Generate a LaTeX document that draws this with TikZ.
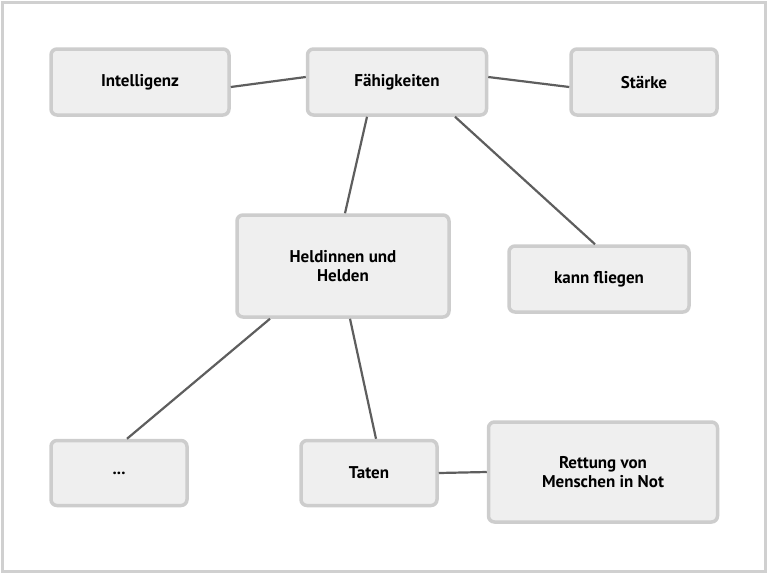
\documentclass[tikz,border=0pt]{standalone}
\usepackage{fontspec}
\setmainfont{PT Sans}
\usetikzlibrary{positioning}
\definecolor{boxFill}{HTML}{EFEFEF}
\definecolor{boxLine}{HTML}{CDCDCD}
\definecolor{linkColor}{HTML}{5E5E5E}
\definecolor{frameColor}{HTML}{D0D0D0}
\tikzset{
  topic/.style={draw=boxLine, fill=boxFill, line width=3.5pt, rounded corners=6pt,
    font=\fontsize{17}{19}\selectfont\bfseries, align=center, inner sep=0pt},
  link/.style={draw=linkColor, line width=2.2pt}
}

\begin{document}
\begin{tikzpicture}[x=1pt,y=-1pt]

% frame
\useasboundingbox (0,0) rectangle (768,574);
\draw[frameColor, line width=3pt] (2.5,2.5) rectangle (765.5,571.5);

% topics
\node[topic, minimum width=178pt, minimum height=66pt] (intel) at (140,82) {Intelligenz};
\node[topic, minimum width=179pt, minimum height=66pt] (faeh) at (397,82) {Fähigkeiten};
\node[topic, minimum width=146pt, minimum height=66pt] (staerke) at (644,82) {Stärke};
\node[topic, minimum width=212pt, minimum height=102pt] (helden) at (343,266) {Heldinnen und\\Helden};
\node[topic, minimum width=180pt, minimum height=66pt] (fliegen) at (599,279) {kann fliegen};
\node[topic, minimum width=136pt, minimum height=65pt] (etc) at (119,473) {...};
\node[topic, minimum width=136pt, minimum height=65pt] (taten) at (369,473) {Taten};
\node[topic, minimum width=229pt, minimum height=100pt] (rettung) at (603,472) {Rettung von\\Menschen in Not};

% links
\draw[link] ([yshift=-5pt]intel.east) -- ([yshift=5pt]faeh.west);
\draw[link] ([yshift=5pt]faeh.east) -- ([yshift=-5pt]staerke.west);
\draw[link] ([xshift=-30pt]faeh.south) -- ([xshift=2pt]helden.north);
\draw[link] ([xshift=58pt]faeh.south) -- ([xshift=-4pt]fliegen.north);
\draw[link] ([xshift=-73pt]helden.south) -- ([xshift=8pt]etc.north);
\draw[link] ([xshift=7pt]helden.south) -- ([xshift=7pt]taten.north);
\draw[link] (taten.east) -- (rettung.west);

\end{tikzpicture}
\end{document}
